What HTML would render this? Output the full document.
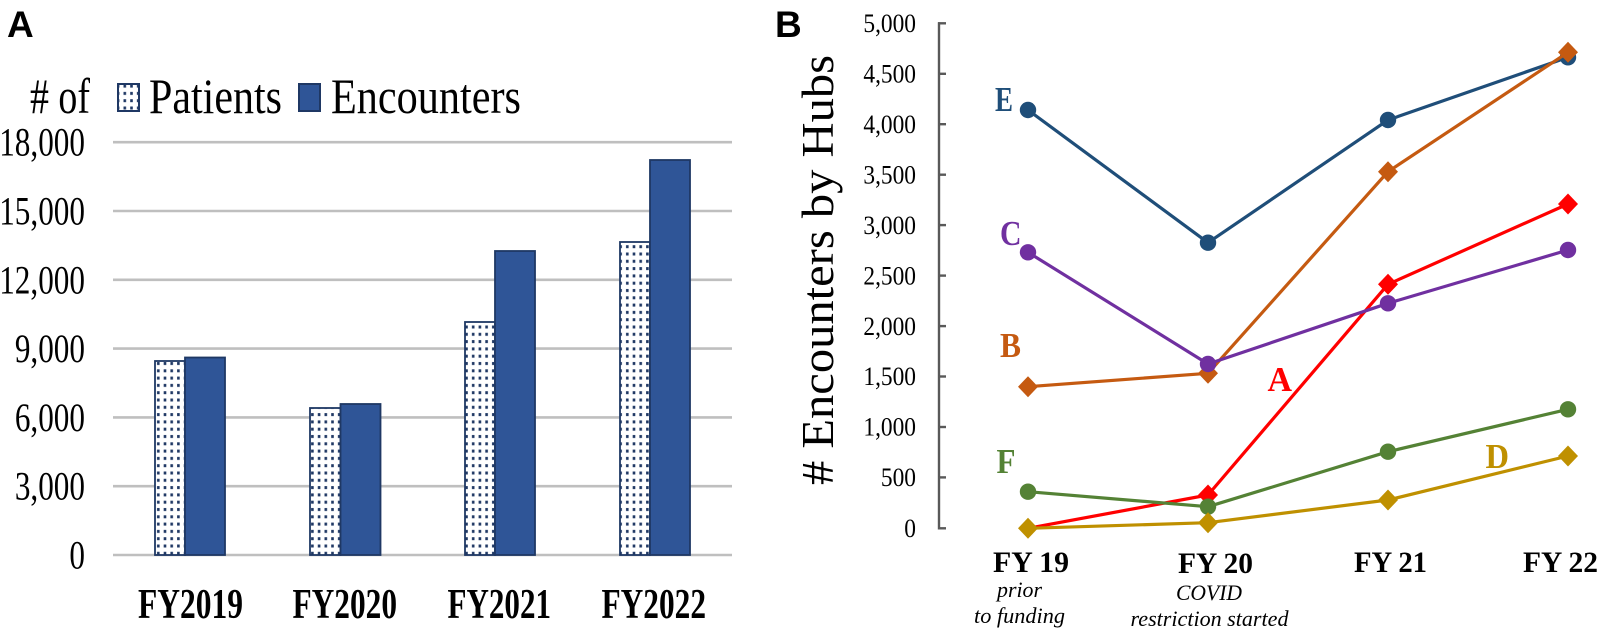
<!DOCTYPE html>
<html>
<head>
<meta charset="utf-8">
<style>
html,body{margin:0;padding:0;background:#fff;}
svg{display:block;}
.serif{font-family:"Liberation Serif","Times New Roman",serif;}
.sans{font-family:"Liberation Sans",Arial,sans-serif;}
</style>
</head>
<body>
<svg width="1600" height="632" viewBox="0 0 1600 632" xmlns="http://www.w3.org/2000/svg">
<defs>
<pattern id="dots" patternUnits="userSpaceOnUse" x="155" y="360" width="6.7" height="7.3">
<rect width="6.7" height="7.3" fill="#ffffff"/>
<rect x="2" y="2" width="2.6" height="3" fill="#1f3864"/>
</pattern>
</defs>
<rect width="1600" height="632" fill="#ffffff"/>

<!-- Panel A -->
<text class="sans" x="7" y="37" font-size="37" font-weight="bold" fill="#000">A</text>

<!-- gridlines -->
<g stroke="#bfbfbf" stroke-width="2.6">
<line x1="113" y1="142.2" x2="732" y2="142.2"/>
<line x1="113" y1="211" x2="732" y2="211"/>
<line x1="113" y1="279.8" x2="732" y2="279.8"/>
<line x1="113" y1="348.6" x2="732" y2="348.6"/>
<line x1="113" y1="417.4" x2="732" y2="417.4"/>
<line x1="113" y1="486.2" x2="732" y2="486.2"/>
<line x1="113" y1="555" x2="732" y2="555"/>
</g>

<!-- y tick labels A -->
<g class="serif" font-size="40" fill="#000" text-anchor="end">
<text transform="translate(85,155.7) scale(0.78,1)">18,000</text>
<text transform="translate(85,224.5) scale(0.78,1)">15,000</text>
<text transform="translate(85,293.3) scale(0.78,1)">12,000</text>
<text transform="translate(85,362.1) scale(0.78,1)">9,000</text>
<text transform="translate(85,430.9) scale(0.78,1)">6,000</text>
<text transform="translate(85,499.7) scale(0.78,1)">3,000</text>
<text transform="translate(85,568.5) scale(0.78,1)">0</text>
</g>

<!-- legend A -->
<g class="serif" font-size="50" fill="#000">
<text x="30" y="113" textLength="60" lengthAdjust="spacingAndGlyphs"># of</text>
<text x="149" y="113" textLength="133" lengthAdjust="spacingAndGlyphs">Patients</text>
<text x="331" y="113" textLength="190" lengthAdjust="spacingAndGlyphs">Encounters</text>
</g>
<rect x="118" y="84" width="21" height="27" fill="url(#dots)" stroke="#1f3864" stroke-width="2"/>
<rect x="299" y="84" width="21" height="27" fill="#2f5597" stroke="#1f3864" stroke-width="2"/>

<!-- bars -->
<g stroke="#1f3864" stroke-width="1.8">
<rect x="155" y="361" width="30" height="194" fill="url(#dots)"/>
<rect x="185" y="357.5" width="40" height="197.5" fill="#2f5597"/>
<rect x="310" y="408" width="30.5" height="147" fill="url(#dots)"/>
<rect x="340.5" y="404" width="40" height="151" fill="#2f5597"/>
<rect x="465" y="322" width="30" height="233" fill="url(#dots)"/>
<rect x="495" y="251" width="40" height="304" fill="#2f5597"/>
<rect x="620" y="242" width="30" height="313" fill="url(#dots)"/>
<rect x="650" y="160" width="40" height="395" fill="#2f5597"/>
</g>

<!-- x labels A -->
<g class="serif" font-size="42" font-weight="bold" fill="#000">
<text x="138" y="618" textLength="105" lengthAdjust="spacingAndGlyphs">FY2019</text>
<text x="292.5" y="618" textLength="104.5" lengthAdjust="spacingAndGlyphs">FY2020</text>
<text x="447.5" y="618" textLength="103.5" lengthAdjust="spacingAndGlyphs">FY2021</text>
<text x="601.5" y="618" textLength="104.5" lengthAdjust="spacingAndGlyphs">FY2022</text>
</g>

<!-- Panel B -->
<text class="sans" x="775" y="37" font-size="37" font-weight="bold" fill="#000">B</text>

<!-- y axis title -->
<text class="serif" font-size="45" fill="#000" transform="translate(833,485) rotate(-90)" textLength="430" lengthAdjust="spacingAndGlyphs"># Encounters by Hubs</text>

<!-- axis -->
<g stroke="#595959" stroke-width="2.4" fill="none">
<line x1="939" y1="22.3" x2="939" y2="529.5"/>
<line x1="938" y1="23.3" x2="946" y2="23.3"/>
<line x1="938" y1="73.8" x2="946" y2="73.8"/>
<line x1="938" y1="124.2" x2="946" y2="124.2"/>
<line x1="938" y1="174.7" x2="946" y2="174.7"/>
<line x1="938" y1="225.1" x2="946" y2="225.1"/>
<line x1="938" y1="275.6" x2="946" y2="275.6"/>
<line x1="938" y1="326.1" x2="946" y2="326.1"/>
<line x1="938" y1="376.5" x2="946" y2="376.5"/>
<line x1="938" y1="427" x2="946" y2="427"/>
<line x1="938" y1="477.4" x2="946" y2="477.4"/>
<line x1="938" y1="528.3" x2="946" y2="528.3"/>
</g>

<!-- y tick labels B -->
<g class="serif" font-size="26" fill="#000" text-anchor="end">
<text transform="translate(916,32) scale(0.9,1)">5,000</text>
<text transform="translate(916,82.5) scale(0.9,1)">4,500</text>
<text transform="translate(916,133) scale(0.9,1)">4,000</text>
<text transform="translate(916,183.4) scale(0.9,1)">3,500</text>
<text transform="translate(916,233.9) scale(0.9,1)">3,000</text>
<text transform="translate(916,284.3) scale(0.9,1)">2,500</text>
<text transform="translate(916,334.8) scale(0.9,1)">2,000</text>
<text transform="translate(916,385.2) scale(0.9,1)">1,500</text>
<text transform="translate(916,435.7) scale(0.9,1)">1,000</text>
<text transform="translate(916,486.1) scale(0.9,1)">500</text>
<text transform="translate(916,537) scale(0.9,1)">0</text>
</g>

<!-- series E (navy) -->
<polyline points="1028,110 1208,242.7 1388,120 1568,57.3" fill="none" stroke="#1f4e79" stroke-width="3.2" stroke-linejoin="round"/>
<g fill="#1f4e79">
<circle cx="1028" cy="110" r="8.2"/>
<circle cx="1208" cy="242.7" r="8.2"/>
<circle cx="1388" cy="120" r="8.2"/>
<circle cx="1568" cy="57.3" r="8.2"/>
</g>

<!-- series B (orange) -->
<polyline points="1028,386.7 1208,373.3 1388,171.7 1568,52.3" fill="none" stroke="#c55a11" stroke-width="3.2" stroke-linejoin="round"/>
<g fill="#c55a11">
<polygon points="1028,376.2 1038,386.7 1028,397.2 1018,386.7"/>
<polygon points="1208,362.8 1218,373.3 1208,383.8 1198,373.3"/>
<polygon points="1388,161.2 1398,171.7 1388,182.2 1378,171.7"/>
<polygon points="1568,41.8 1578,52.3 1568,62.8 1558,52.3"/>
</g>

<!-- series A (red) -->
<polyline points="1028,528.3 1208,495 1388,284.3 1568,204" fill="none" stroke="#ff0000" stroke-width="3.2" stroke-linejoin="round"/>
<g fill="#ff0000">
<polygon points="1208,484.5 1218,495 1208,505.5 1198,495"/>
<polygon points="1388,273.8 1398,284.3 1388,294.8 1378,284.3"/>
<polygon points="1568,193.5 1578,204 1568,214.5 1558,204"/>
</g>

<!-- series C (purple) -->
<polyline points="1028,252.3 1208,364 1388,303.3 1568,250" fill="none" stroke="#7030a0" stroke-width="3.2" stroke-linejoin="round"/>
<g fill="#7030a0">
<circle cx="1028" cy="252.3" r="8.2"/>
<circle cx="1208" cy="364" r="8.2"/>
<circle cx="1388" cy="303.3" r="8.2"/>
<circle cx="1568" cy="250" r="8.2"/>
</g>

<!-- series F (green) -->
<polyline points="1028,491.7 1208,506.7 1388,451.7 1568,409.3" fill="none" stroke="#548235" stroke-width="3.2" stroke-linejoin="round"/>
<g fill="#548235">
<circle cx="1028" cy="491.7" r="8.2"/>
<circle cx="1208" cy="506.7" r="8.2"/>
<circle cx="1388" cy="451.7" r="8.2"/>
<circle cx="1568" cy="409.3" r="8.2"/>
</g>

<!-- series D (gold) -->
<polyline points="1028,528.3 1208,522.7 1388,500 1568,456" fill="none" stroke="#bf9000" stroke-width="3.2" stroke-linejoin="round"/>
<g fill="#bf9000">
<polygon points="1028,517.8 1038,528.3 1028,538.8 1018,528.3"/>
<polygon points="1208,512.2 1218,522.7 1208,533.2 1198,522.7"/>
<polygon points="1388,489.5 1398,500 1388,510.5 1378,500"/>
<polygon points="1568,445.5 1578,456 1568,466.5 1558,456"/>
</g>

<!-- series labels -->
<g class="serif" font-size="35" font-weight="bold">
<text x="995" y="111" fill="#1f4e79" textLength="18" lengthAdjust="spacingAndGlyphs">E</text>
<text x="1000" y="245" fill="#7030a0" textLength="21.5" lengthAdjust="spacingAndGlyphs">C</text>
<text x="1000" y="357" fill="#c55a11" textLength="21" lengthAdjust="spacingAndGlyphs">B</text>
<text x="1267.5" y="391" fill="#ff0000" textLength="24.5" lengthAdjust="spacingAndGlyphs">A</text>
<text x="996.5" y="473" fill="#548235" textLength="19" lengthAdjust="spacingAndGlyphs">F</text>
<text x="1485.5" y="468" fill="#bf9000" textLength="23.5" lengthAdjust="spacingAndGlyphs">D</text>
</g>

<!-- x labels B -->
<g class="serif" font-size="30" font-weight="bold" fill="#000">
<text x="993" y="572" textLength="76" lengthAdjust="spacingAndGlyphs">FY 19</text>
<text x="1178" y="573" textLength="75" lengthAdjust="spacingAndGlyphs">FY 20</text>
<text x="1354" y="572" textLength="73" lengthAdjust="spacingAndGlyphs">FY 21</text>
<text x="1523" y="572" textLength="75" lengthAdjust="spacingAndGlyphs">FY 22</text>
</g>
<g class="serif" font-size="22" font-style="italic" fill="#000">
<text x="997" y="597" textLength="45" lengthAdjust="spacingAndGlyphs">prior</text>
<text x="974" y="623" textLength="91" lengthAdjust="spacingAndGlyphs">to funding</text>
<text x="1176" y="600" textLength="66" lengthAdjust="spacingAndGlyphs">COVID</text>
<text x="1130.5" y="626" textLength="158" lengthAdjust="spacingAndGlyphs">restriction started</text>
</g>
</svg>
</body>
</html>
